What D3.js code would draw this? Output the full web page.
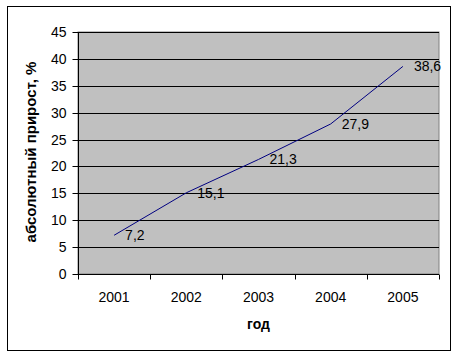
<!DOCTYPE html>
<html><head><meta charset="utf-8">
<script src="https://cdn.jsdelivr.net/npm/d3@7"></script>
<style>body{margin:0;background:#fff}svg{display:block;font-family:"Liberation Sans",Arial,sans-serif}</style>
</head><body><svg id="c" width="457" height="357"></svg>
<script>
const years = ["2001","2002","2003","2004","2005"];
const values = [7.2, 15.1, 21.3, 27.9, 38.6];
const valueLabels = ["7,2","15,1","21,3","27,9","38,6"];
const yTicks = [0,5,10,15,20,25,30,35,40,45];
const yTitle = "абсолютный прирост, %";
const xTitle = "год";

const svg = d3.select("#c");
const L = 78, T = 32, R = 439, B = 274;
svg.append("rect").attr("x",7.5).attr("y",6.5).attr("width",443).attr("height",344)
  .attr("fill","#fff").attr("stroke","#000").attr("stroke-width",1);

const x = d3.scaleBand().domain(years).range([L,R]).paddingInner(0).paddingOuter(0);
const y = d3.scaleLinear().domain([0,45]).range([B,T]);

svg.append("rect").attr("x",L).attr("y",T).attr("width",R-L).attr("height",B-T)
  .attr("fill","#c0c0c0").attr("stroke","#808080");

svg.append("g").selectAll("line").data(yTicks.filter(d=>d>0)).join("line")
  .attr("x1",L).attr("x2",R).attr("y1",d=>Math.round(y(d))+0.5).attr("y2",d=>Math.round(y(d))+0.5)
  .attr("stroke","#000");

// y axis
const ya = svg.append("g").attr("transform",`translate(${L+0.5},0.5)`)
  .call(d3.axisLeft(y).tickValues(yTicks).tickSize(6).tickPadding(6).tickFormat(d3.format("d")));
ya.select(".domain").attr("stroke","#000").attr("d",`M0,${T}V${B}`);
ya.selectAll(".tick line").attr("stroke","#000");
ya.selectAll(".tick").attr("transform",d=>`translate(0,${Math.round(y(d))})`);
ya.selectAll("text").attr("font-size",14).attr("fill","#000").attr("font-family","Liberation Sans, Arial, sans-serif");

// x axis
const xa = svg.append("g").attr("transform",`translate(0,${B+0.5})`);
xa.append("line").attr("x1",L).attr("x2",R).attr("stroke","#000");
const bounds = years.map(d=>x(d)).concat([R]);
xa.selectAll("line.tk").data(bounds).join("line").attr("class","tk")
  .attr("x1",d=>Math.round(d)+0.5).attr("x2",d=>Math.round(d)+0.5).attr("y1",0).attr("y2",5).attr("stroke","#000");
xa.selectAll("text").data(years).join("text")
  .attr("x",d=>x(d)+x.bandwidth()/2).attr("y",27).attr("text-anchor","middle")
  .attr("font-size",14).attr("fill","#000").text(d=>d);

// line
const line = d3.line().x((d,i)=>x(years[i])+x.bandwidth()/2).y(d=>y(d));
svg.append("path").datum(values).attr("d",line).attr("fill","none").attr("stroke","#000080").attr("stroke-width",1);

svg.append("g").selectAll("text").data(values).join("text")
  .attr("x",(d,i)=>x(years[i])+x.bandwidth()/2+11).attr("y",d=>y(d)).attr("dy","0.36em")
  .attr("font-size",14).attr("fill","#000").text((d,i)=>valueLabels[i]);

svg.append("text").attr("transform",`translate(36,152) rotate(-90)`)
  .attr("text-anchor","middle").attr("font-size",15).attr("font-weight","bold").text(yTitle);
svg.append("text").attr("x",(L+R)/2).attr("y",329).attr("text-anchor","middle")
  .attr("font-size",14).attr("font-weight","bold").text(xTitle);
</script></body></html>
